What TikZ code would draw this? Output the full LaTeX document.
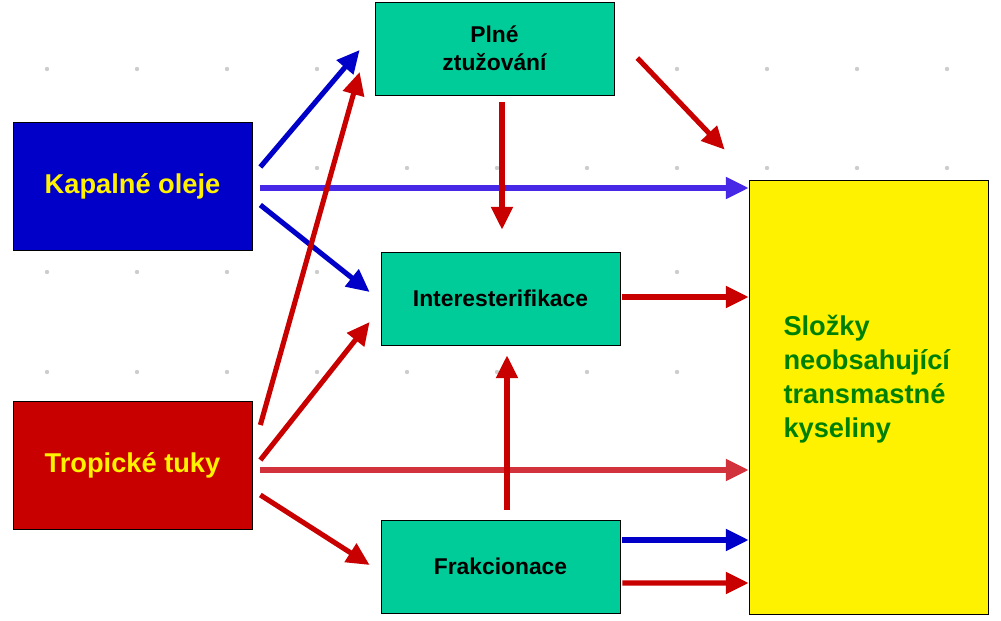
\documentclass[tikz,border=0pt]{standalone}
\usepackage{fontspec}
\setmainfont{Liberation Sans}
\usetikzlibrary{arrows.meta,calc}
\definecolor{boxblue}{RGB}{0,0,200}
\definecolor{boxred}{RGB}{200,0,0}
\definecolor{boxteal}{RGB}{0,204,153}
\definecolor{boxgreen}{RGB}{0,128,0}
\definecolor{lineblue}{RGB}{70,40,230}
\definecolor{linered}{RGB}{210,50,60}
\definecolor{dotgrey}{RGB}{205,205,205}
\tikzset{
  srcbox/.style={draw=black, line width=0.4pt, minimum width=239*0.02cm, minimum height=128*0.02cm, text=yellow, font=\bfseries\fontsize{15.5}{18}\selectfont},
  procbox/.style={draw=black, fill=boxteal, line width=0.4pt, minimum width=239*0.02cm, minimum height=93*0.02cm, align=center, font=\bfseries\fontsize{13}{16}\selectfont},
  flow/.style={line width=2.9pt, -{Triangle[length=13pt,width=12pt]}},
}
\begin{document}
\begin{tikzpicture}[x=0.02cm,y=-0.02cm]
\useasboundingbox (0,0) rectangle (1001,621);
% dots
\foreach \y in {69,168,272,372}
  \foreach \x in {47,137,...,950}
    \fill[dotgrey] (\x,\y) circle (2.2);

\node [srcbox, fill=boxblue] (kap) at (132.5,186) {Kapalné oleje};
\node [srcbox, fill=boxred] (trop) at (132.5,465) {Tropické tuky};
\node [procbox] (plne) at (494.5,48.5) {Plné\\ztužování};
\node [procbox] (inter) at (500.5,298.5) {Interesterifikace};
\node [procbox] (frak) at (500.5,566.5) {Frakcionace};
\node [draw=black, fill=yellow, minimum width=239*0.02cm, minimum height=434*0.02cm, text=boxgreen, align=left, text width=170*0.02cm, font=\bfseries\fontsize{15.5}{19.5}\selectfont] (slozky) at (868.5,397) {Složky\\neobsahující\\transmastné\\kyseliny\\[4pt]\mbox{}};

% blue flows
\draw [flow, boxblue] ($(kap.east)+(8,-19)$) -- ($(plne.west)+(-15,1.5)$);
\draw [flow, boxblue] ($(kap.east)+(8,19)$) -- ($(inter.west)+(-11,-6.5)$);
\draw [flow, lineblue] ($(kap.east)+(8,2)$) -- ($(slozky.west)+(0,-209)$);
\draw [flow, boxblue] ($(frak.east)+(2,-26.5)$) -- ($(slozky.west)+(0,143)$);
% red flows
\draw [flow, boxred] ($(trop.east)+(8,-40)$) -- ($(plne.west)+(-15,23.5)$);
\draw [flow, boxred] ($(trop.east)+(8,-5)$) -- ($(inter.west)+(-11,23.5)$);
\draw [flow, linered] ($(trop.east)+(8,5)$) -- ($(slozky.west)+(0,73)$);
\draw [flow, boxred] ($(trop.east)+(8,30)$) -- ($(frak.west)+(-11,-1.5)$);
\draw [flow, boxred] ($(plne.south)+(7.5,7)$) -- ($(inter.north)+(1.5,-22)$);
\draw [flow, boxred] ($(frak.north)+(6.5,-10)$) -- ($(inter.south)+(6.5,10)$);
\draw [flow, boxred] ($(plne.east)+(23,9.5)$) -- ($(slozky.north west)+(-24,-30)$);
\draw [flow, boxred] ($(inter.east)+(2,-1.5)$) -- ($(slozky.west)+(0,-100)$);
\draw [flow, boxred] ($(frak.east)+(2,16.5)$) -- ($(slozky.west)+(0,186)$);
\end{tikzpicture}
\end{document}
